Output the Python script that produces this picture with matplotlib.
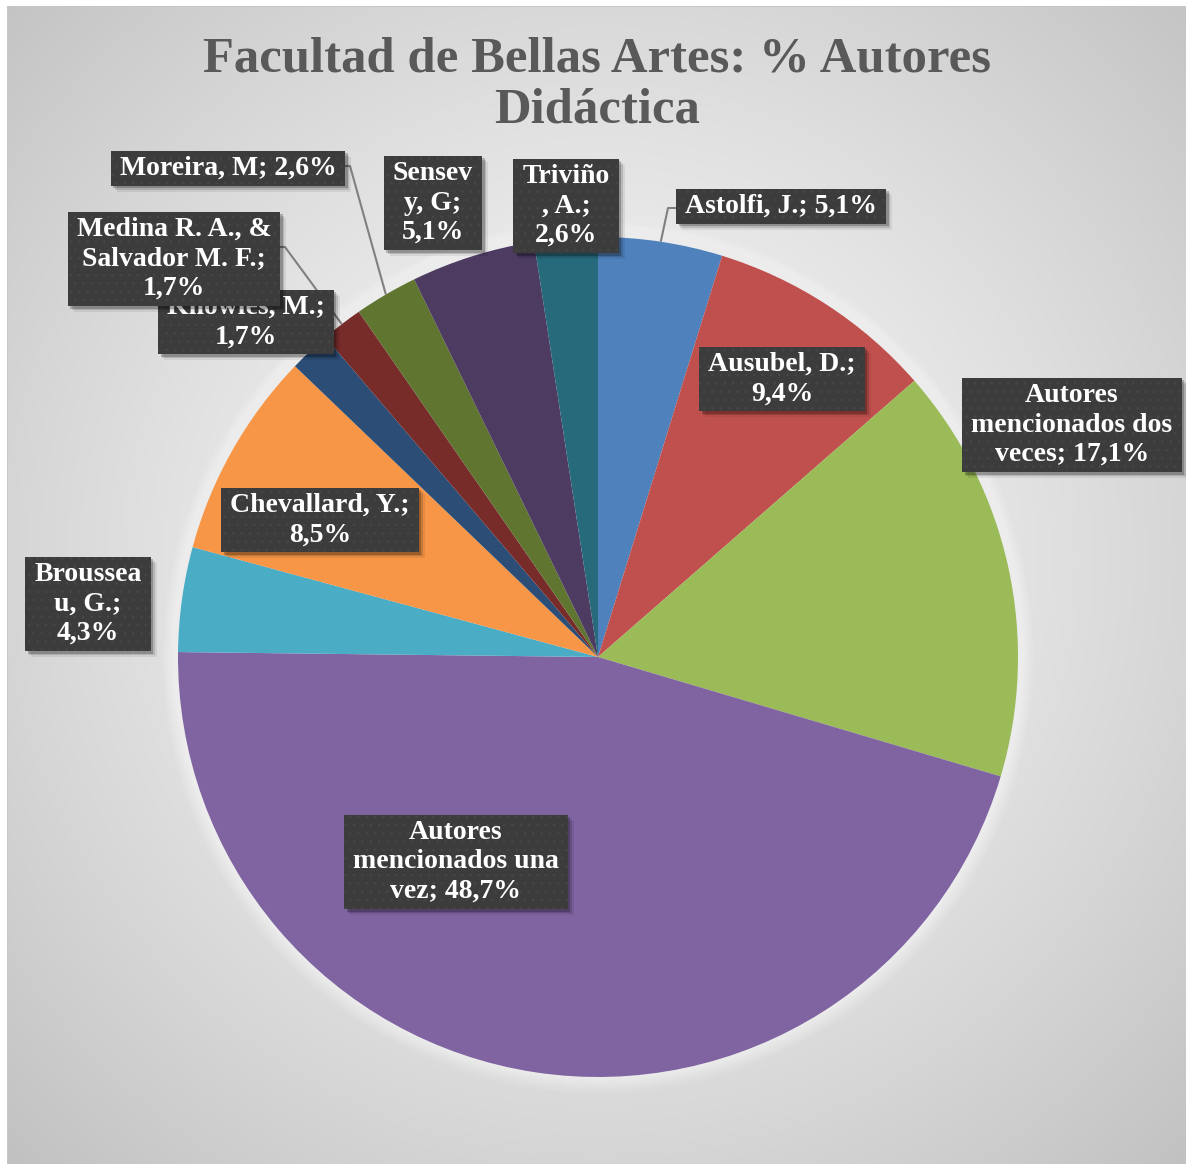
import numpy as np
import matplotlib.pyplot as plt
from matplotlib.patches import Rectangle, Circle

plt.rcParams['font.family'] = ['Liberation Serif', 'DejaVu Serif']
plt.rcParams['font.weight'] = 'bold'
plt.rcParams['hatch.linewidth'] = 0.5

W, H = 1186, 1164

# datos
autores = ["Astolfi, J.", "Ausubel, D.", "Autores\nmencionados dos\nveces",
           "Autores\nmencionados una\nvez", "Broussea\nu, G.", "Chevallard, Y.",
           "Knowles, M.", "Medina R. A., &\nSalvador M. F.", "Moreira, M",
           "Sensev\ny, G", "Triviño\n, A."]
porcentajes = [5.1, 9.4, 17.1, 48.7, 4.3, 8.5, 1.7, 1.7, 2.6, 5.1, 2.6]
separador = [" ", "\n", " ", " ", "\n", "\n", "\n", "\n", " ", "\n", "\n"]
colores = ["#4F81BD", "#C0504D", "#9BBB59", "#8064A2", "#4BACC6", "#F79646",
           "#2C4D75", "#772C2A", "#5F7530", "#4D3B62", "#276A7C"]
titulo = "Facultad de Bellas Artes: % Autores\nDidáctica"

# posicion de las etiquetas (pixeles desde arriba)
pos_etiq = [(781, 206), (782, 379), (1072, 425), (456, 862), (88, 604),
            (320, 520), (246, 322), (174, 259), (228, 168), (433, 203), (566, 206)]
# lineas guia: indice -> codo
codos = {0: (668, 208, 1), 8: (350, 166, -1), 7: (285, 247, -1)}

cx, cy, R = 598, H - 657, 420

fig = plt.figure(figsize=(W / 100, H / 100), dpi=100)
ax = fig.add_axes([0, 0, 1, 1])

# fondo degradado
yy, xx = np.mgrid[0:H, 0:W]
d = np.sqrt((xx - 600) ** 2 + (yy - 560) ** 2) / 820
v = np.clip(0.975 - 0.21 * d ** 1.3, 0, 1)
img = np.dstack([v, v, v])
img[:6, :] = 1
img[:, :7] = 1
img[6, 7:] = 0.78
img[6:, 7] = 0.78
ax.imshow(img, extent=(0, W, 0, H), origin='upper', zorder=0, interpolation='bilinear')

# halo blanco
for i in range(16, 0, -1):
    ax.add_patch(Circle((cx, cy), R + i, facecolor='white', edgecolor='none',
                        alpha=0.05, zorder=1))

wedges, _ = ax.pie(porcentajes, colors=colores, startangle=90, counterclock=False,
                   center=(cx, cy), radius=R, frame=True,
                   wedgeprops=dict(linewidth=0))
for w in wedges:
    w.set_zorder(2)

ax.text(597, H - 85, titulo, ha='center', va='center', fontsize=36.5,
        color='#595959', linespacing=1.13, zorder=10)

# lineas guia
for i, (ex, ey, lado) in codos.items():
    w = wedges[i]
    a = np.deg2rad((w.theta1 + w.theta2) / 2)
    x0, y0 = cx + R * np.cos(a), cy + R * np.sin(a)
    ax.plot([x0, ex, ex + 15 * lado], [y0, H - ey, H - ey], color='#808080',
            lw=1.5, zorder=4, solid_capstyle='butt')

textos = []
for i, (nom, pct, sep) in enumerate(zip(autores, porcentajes, separador)):
    etiqueta = f"{nom};{sep}" + f"{pct:.1f}".replace(".", ",") + "%"
    px, py = pos_etiq[i]
    t = ax.text(px, H - py, etiqueta, ha='center', va='center', fontsize=20,
                color='white', linespacing=1.24, zorder=6 + i * 0.5 + 0.2)
    textos.append(t)

fig.canvas.draw()
rend = fig.canvas.get_renderer()
inv = ax.transData.inverted()
for i, t in enumerate(textos):
    bb = t.get_window_extent(rend).transformed(inv)
    x0, y0 = bb.x0 - 9, bb.y0 - 5
    bw, bh = bb.width + 18, bb.height + 10
    z = 6 + i * 0.5
    for k, al in [(6, 0.07), (4, 0.13), (2.5, 0.22)]:
        ax.add_patch(Rectangle((x0 + k, y0 - k), bw, bh, facecolor='black',
                               edgecolor='none', alpha=al, zorder=z - 0.1))
    ax.add_patch(Rectangle((x0, y0), bw, bh, facecolor='#3c3c3c',
                           edgecolor='none', zorder=z))
    ax.add_patch(Rectangle((x0, y0), bw, bh, facecolor='none', edgecolor='#474747',
                           hatch='..', linewidth=0, zorder=z + 0.05))

ax.set_xlim(0, W)
ax.set_ylim(0, H)
ax.axis('off')
fig.savefig('out.png', dpi=100)
